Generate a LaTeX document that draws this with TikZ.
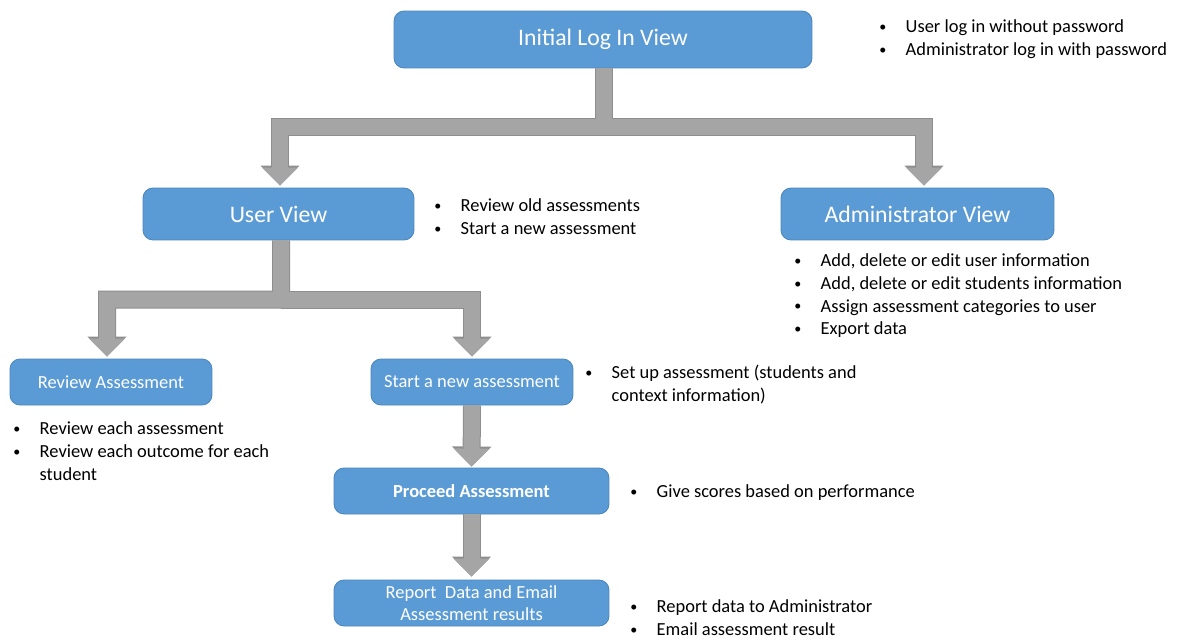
\documentclass[tikz,border=0pt]{standalone}
\usepackage{fontspec}
\setmainfont{Carlito}
\usetikzlibrary{arrows.meta}

\definecolor{boxblue}{HTML}{5B9BD5}
\definecolor{boxedge}{HTML}{4A86C0}
\definecolor{flowgray}{HTML}{A5A5A5}
\definecolor{flowedge}{HTML}{8E8E8E}

\tikzstyle{block}=[rectangle,
    rounded corners=0.2cm,
    draw=boxedge,
    line width=0.5pt,
    fill=boxblue,
    text=white,
    inner sep=0pt,
    align=center]
\tikzstyle{bigblock}=[block,
    minimum height=1.04cm,
    font=\fontsize{13.5}{16}\selectfont]
\tikzstyle{smallblock}=[block,
    minimum height=0.92cm,
    font=\fontsize{10.5}{12.5}\selectfont]
\tikzstyle{notes}=[anchor=north west,
    inner sep=0pt,
    font=\fontsize{10.5}{13}\selectfont]
\tikzstyle{flowbody}=[draw=flowgray,
    line width=0.32cm,
    line join=miter,
    -{Triangle[length=0.36cm,width=0.70cm]}]
\tikzstyle{flowline}=[draw=flowedge,
    line width=0.36cm,
    line join=miter,
    -{Triangle[length=0.40cm,width=0.76cm]}]

\newcommand{\bl}{\raisebox{0.6pt}{\fontsize{8}{8}\selectfont\textbullet} &}
\newenvironment{blist}{\begin{tabular}{@{}p{15pt}@{}l@{}}}{\end{tabular}}

\begin{document}
\begin{tikzpicture}[x=0.02cm,y=-0.02cm]
    \useasboundingbox (0,0) rectangle (1179,639);

    \node (login) [bigblock, minimum width=8.36cm, minimum height=1.14cm] at (603,39.5) {Initial Log In View};
    \node (user) [bigblock, minimum width=5.42cm] at (278.5,214) {User View};
    \node (admin) [bigblock, minimum width=5.46cm] at (917.5,214) {Administrator View};
    \node (review) [smallblock, minimum width=4.04cm] at (111,382) {Review Assessment};
    \node (start) [smallblock, minimum width=4.04cm] at (472,382) {Start a new assessment};
    \node (proceed) [smallblock, minimum width=5.5cm] at (471.5,491) {\bfseries Proceed Assessment};
    \node (report) [smallblock, minimum width=5.5cm] at (471.5,603) {Report\ \ Data and Email\\Assessment results};

    \coordinate (split1) at (604,126.5);
    \coordinate (split2) at (281,299.5);

    \foreach \s in {flowline,flowbody} {
        \draw [\s] ([xshift=0.02cm]login.south) -- (login.south -| split1) -- (split1) -| ([xshift=0.03cm,yshift=0.04cm]user.north);
        \draw [\s] (split1) -| ([xshift=0.13cm,yshift=0.04cm]admin.north);
        \draw [\s] ([xshift=0.05cm]user.south) -- (split2) -| ([xshift=-0.08cm,yshift=0.04cm]review.north);
        \draw [\s] (split2) -| ([yshift=0.04cm]start.north);
        \draw [\s] (start.south) -- ([yshift=0.02cm]proceed.north);
        \draw [\s] (proceed.south) -- ([yshift=0.06cm]report.north);
    }

    \node (loginnotes) [notes] at (879,16) {\begin{blist}
        \bl User log in without password\\
        \bl Administrator log in with password
    \end{blist}};
    \node (usernotes) [notes] at (434,195) {\begin{blist}
        \bl Review old assessments\\
        \bl Start a new assessment
    \end{blist}};
    \node (adminnotes) [notes] at (794,250) {\begin{blist}
        \bl Add, delete or edit user information\\
        \bl Add, delete or edit students information\\
        \bl Assign assessment categories to user\\
        \bl Export data
    \end{blist}};
    \node (reviewnotes) [notes] at (13,418) {\begin{blist}
        \bl Review each assessment\\
        \bl Review each outcome for each\\
        & student
    \end{blist}};
    \node (startnotes) [notes] at (585,362) {\begin{blist}
        \bl Set up assessment (students and\\
        & context information)
    \end{blist}};
    \node (proceednotes) [notes] at (630,481) {\begin{blist}
        \bl Give scores based on performance
    \end{blist}};
    \node (reportnotes) [notes] at (630,596) {\begin{blist}
        \bl Report data to Administrator\\
        \bl Email assessment result
    \end{blist}};
\end{tikzpicture}
\end{document}
